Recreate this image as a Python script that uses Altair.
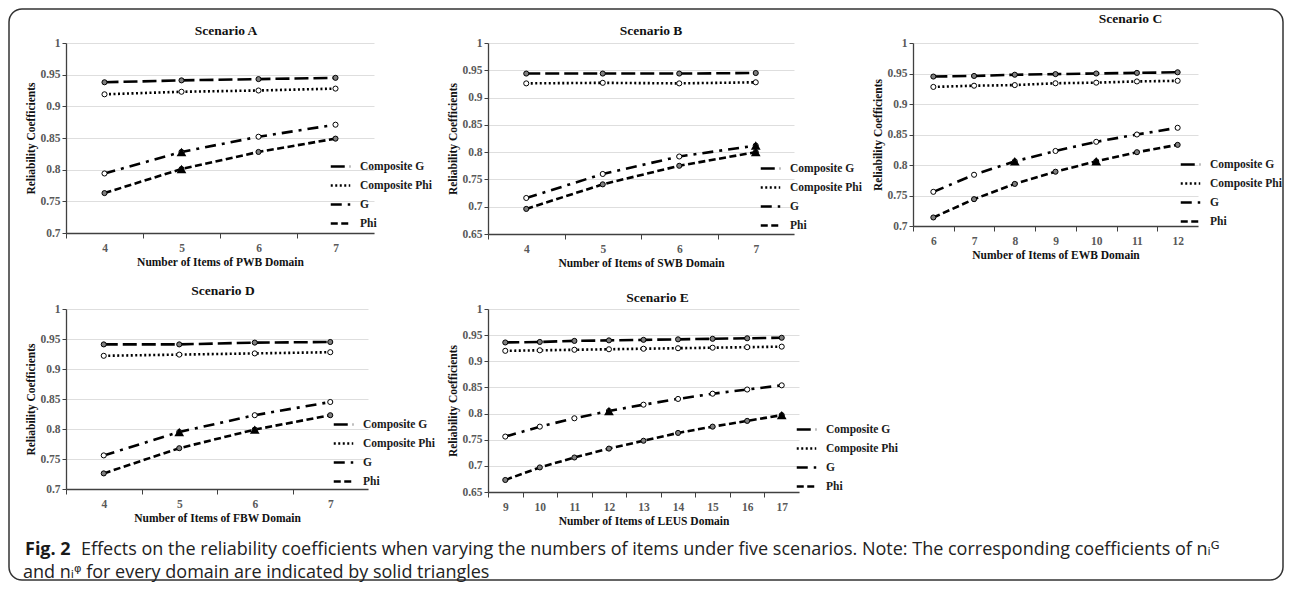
import altair as alt
import pandas as pd

SERIES = ["Composite G", "Composite Phi", "G", "Phi"]
DASHES = [[14, 5], [2, 2.5], [11, 6, 3, 6], [7, 3.5]]
FILLS = ["#7f7f7f", "#ffffff", "#ffffff", "#7f7f7f"]

# Scenario A
a_x = [4, 5, 6, 7]
a_compG = [0.938, 0.941, 0.943, 0.945]
a_compPhi = [0.919, 0.923, 0.925, 0.928]
a_G = [0.794, 0.828, 0.852, 0.871]
a_Phi = [0.763, 0.801, 0.828, 0.849]
a_tri = {"G": 5, "Phi": 5}

# Scenario B
b_x = [4, 5, 6, 7]
b_compG = [0.944, 0.944, 0.944, 0.945]
b_compPhi = [0.926, 0.927, 0.926, 0.928]
b_G = [0.716, 0.760, 0.792, 0.812]
b_Phi = [0.696, 0.741, 0.775, 0.800]
b_tri = {"G": 7, "Phi": 7}

# Scenario C
c_x = [6, 7, 8, 9, 10, 11, 12]
c_compG = [0.945, 0.946, 0.948, 0.949, 0.950, 0.951, 0.952]
c_compPhi = [0.928, 0.930, 0.931, 0.934, 0.935, 0.937, 0.938]
c_G = [0.756, 0.784, 0.806, 0.823, 0.838, 0.850, 0.861]
c_Phi = [0.714, 0.744, 0.769, 0.789, 0.806, 0.821, 0.833]
c_tri = {"G": 8, "Phi": 10}

# Scenario D
d_x = [4, 5, 6, 7]
d_compG = [0.941, 0.941, 0.944, 0.945]
d_compPhi = [0.922, 0.924, 0.926, 0.928]
d_G = [0.756, 0.795, 0.823, 0.845]
d_Phi = [0.726, 0.768, 0.799, 0.823]
d_tri = {"G": 5, "Phi": 6}

# Scenario E
e_x = [9, 10, 11, 12, 13, 14, 15, 16, 17]
e_compG = [0.936, 0.937, 0.939, 0.940, 0.941, 0.942, 0.943, 0.944, 0.945]
e_compPhi = [0.920, 0.921, 0.922, 0.923, 0.924, 0.925, 0.926, 0.927, 0.928]
e_G = [0.756, 0.775, 0.791, 0.805, 0.817, 0.828, 0.838, 0.846, 0.854]
e_Phi = [0.673, 0.697, 0.716, 0.733, 0.748, 0.763, 0.775, 0.786, 0.797]
e_tri = {"G": 12, "Phi": 17}

caption_bold = ["Fig. 2"]
caption_lines = [
    "Effects on the reliability coefficients when varying the numbers of items under five scenarios. Note: The corresponding coefficients of nᵢᴳ",
    "and nᵢᵠ for every domain are indicated by solid triangles",
]

SERIF = "Liberation Serif"
SANS = "Open Sans, DejaVu Sans, sans-serif"

COLPAD = 114
ROWPAD = 75


def panel(title, xtitle, xs, compG, compPhi, G, Phi, tri, ylo, width, height,
          legx, legy, tdx, tdy):
    rows = []
    for s, vals in zip(SERIES, [compG, compPhi, G, Phi]):
        for xv, yv in zip(xs, vals):
            rows.append({"x": xv, "y": yv, "series": s})
    df = pd.DataFrame(rows)
    tri_rows = []
    for s, xv in tri.items():
        vals = {"G": G, "Phi": Phi}[s]
        tri_rows.append({"x": xv, "y": vals[xs.index(xv)], "series": s})
    tdf = pd.DataFrame(tri_rows)

    nsteps = int(round((1.0 - ylo) / 0.05))
    yvals = [round(ylo + 0.05 * k, 2) for k in range(nsteps + 1)]
    half = width / len(xs) / 2.0
    xscale = alt.Scale(domain=[min(xs) - 0.5, max(xs) + 0.5], nice=False, zero=False)
    yscale = alt.Scale(domain=[ylo, 1.0], nice=False, zero=False)
    xenc = alt.X("x:Q", scale=xscale, title=xtitle,
                 axis=alt.Axis(values=xs, grid=False, format="d", labelPadding=4,
                               tickSize=5, titlePadding=3, tickOffset=-half,
                               labelOffset=half))
    yenc = alt.Y("y:Q", scale=yscale, title="Reliability Coefficients",
                 axis=alt.Axis(values=yvals, format="~g", grid=True, tickSize=4,
                               labelPadding=2, titlePadding=3, labelOverlap=False))

    line = alt.Chart(df).mark_line(color="black", strokeWidth=2.6).encode(
        x=xenc, y=yenc,
        strokeDash=alt.StrokeDash(
            "series:N",
            scale=alt.Scale(domain=SERIES, range=DASHES),
            legend=alt.Legend(
                orient="none", legendX=legx, legendY=legy, padding=0,
                title=None, symbolType="stroke", symbolStrokeColor="black",
                symbolStrokeWidth=2.6, symbolSize=380, rowPadding=2,
                labelFont=SERIF, labelFontWeight="bold", labelFontSize=11.5,
                labelColor="#1a1a1a", labelOffset=8,
            ),
        ),
    )
    pts = alt.Chart(df).mark_point(filled=True, size=26, stroke="black", strokeWidth=1, opacity=1).encode(
        x=xenc, y=yenc,
        fill=alt.Fill("series:N", scale=alt.Scale(domain=SERIES, range=FILLS), legend=None),
    )
    tris = alt.Chart(tdf).mark_point(shape="triangle-up", filled=True, size=95, color="black", opacity=1).encode(
        x=xenc, y=yenc,
    )
    return alt.layer(line, pts, tris).properties(
        width=width, height=height,
        title=alt.TitleParams(title, font=SERIF, fontSize=13.5, fontWeight="bold",
                              offset=0, dx=tdx, dy=tdy, baseline="middle", color="#111111"),
    ).resolve_scale(strokeDash="independent", fill="independent")


W = {"A": 308, "B": 306, "C": 285, "D": 302, "E": 311}
H = {"A": 190, "B": 191, "C": 183, "D": 180, "E": 183}

pA = panel("Scenario A", "Number of Items of PWB Domain", a_x, a_compG, a_compPhi, a_G, a_Phi, a_tri,
           0.7, W["A"], H["A"], 263, 112, 6, 7)
pB = panel("Scenario B", "Number of Items of SWB Domain", b_x, b_compG, b_compPhi, b_G, b_Phi, b_tri,
           0.65, W["B"], H["B"], 271, 114, 10, 7)
pC = panel("Scenario C", "Number of Items of EWB Domain", c_x, c_compG, c_compPhi, c_G, c_Phi, c_tri,
           0.7, W["C"], H["C"], 266, 110, 75, -5)
pD = panel("Scenario D", "Number of Items of FBW Domain", d_x, d_compG, d_compPhi, d_G, d_Phi, d_tri,
           0.7, W["D"], H["D"], 266, 104, 6, 1)
pE = panel("Scenario E", "Number of Items of LEUS Domain", e_x, e_compG, e_compPhi, e_G, e_Phi, e_tri,
           0.65, W["E"], H["E"], 307, 109, 14, 8)

# caption cell sits at row 2, column 3 of the grid; convert page coords into its frame
O_X, O_Y = 72, 43
CAP_X = O_X + W["D"] + COLPAD + W["E"] + COLPAD
CAP_Y = O_Y + max(H["A"], H["B"], H["C"]) + ROWPAD


def cx(px):
    return px - CAP_X


def cy(py):
    return py - CAP_Y


capdf_b = pd.DataFrame({"t": caption_bold})
capdf1 = pd.DataFrame({"t": caption_lines[:1]})
capdf2 = pd.DataFrame({"t": caption_lines[1:]})
cap_bold = alt.Chart(capdf_b).mark_text(
    font=SANS, fontSize=18, fontWeight="bold", align="left", baseline="middle", color="#1a1a1a"
).encode(text="t:N", x=alt.value(cx(25)), y=alt.value(cy(550)))
cap_line1 = alt.Chart(capdf1).mark_text(
    font=SANS, fontSize=18, align="left", baseline="middle", color="#222222"
).encode(text="t:N", x=alt.value(cx(81)), y=alt.value(cy(550)))
cap_line2 = alt.Chart(capdf2).mark_text(
    font=SANS, fontSize=18, align="left", baseline="middle", color="#222222"
).encode(text="t:N", x=alt.value(cx(23)), y=alt.value(cy(573)))
frame = alt.Chart(capdf_b).mark_rect(
    fill=None, stroke="#333333", strokeWidth=1.5, cornerRadius=13
).encode(x=alt.value(cx(9)), x2=alt.value(cx(1283)), y=alt.value(cy(9)), y2=alt.value(cy(580)))
caption = alt.layer(frame, cap_bold, cap_line1, cap_line2).properties(width=1, height=1)

chart = alt.concat(
    pA, pB, pC, pD, pE, caption, columns=3,
    spacing={"row": ROWPAD, "column": COLPAD},
).properties(
    bounds="flush", align={"row": "all", "column": "none"},
    padding={"left": 0, "top": 0, "right": 0, "bottom": 0},
).resolve_scale(
    x="independent", y="independent", strokeDash="independent", fill="independent"
).resolve_legend(strokeDash="independent").configure_view(stroke=None).configure_axis(
    labelFont=SERIF, labelFontWeight="bold", labelFontSize=11.5, labelColor="#595959",
    titleFont=SERIF, titleFontWeight="bold", titleFontSize=11.5, titleColor="#111111",
    domainColor="#404040", domainWidth=1.3, tickColor="#404040", gridColor="#dedede",
    gridWidth=1,
)

chart.save("out.html", embed_options={"renderer": "svg", "actions": False})
